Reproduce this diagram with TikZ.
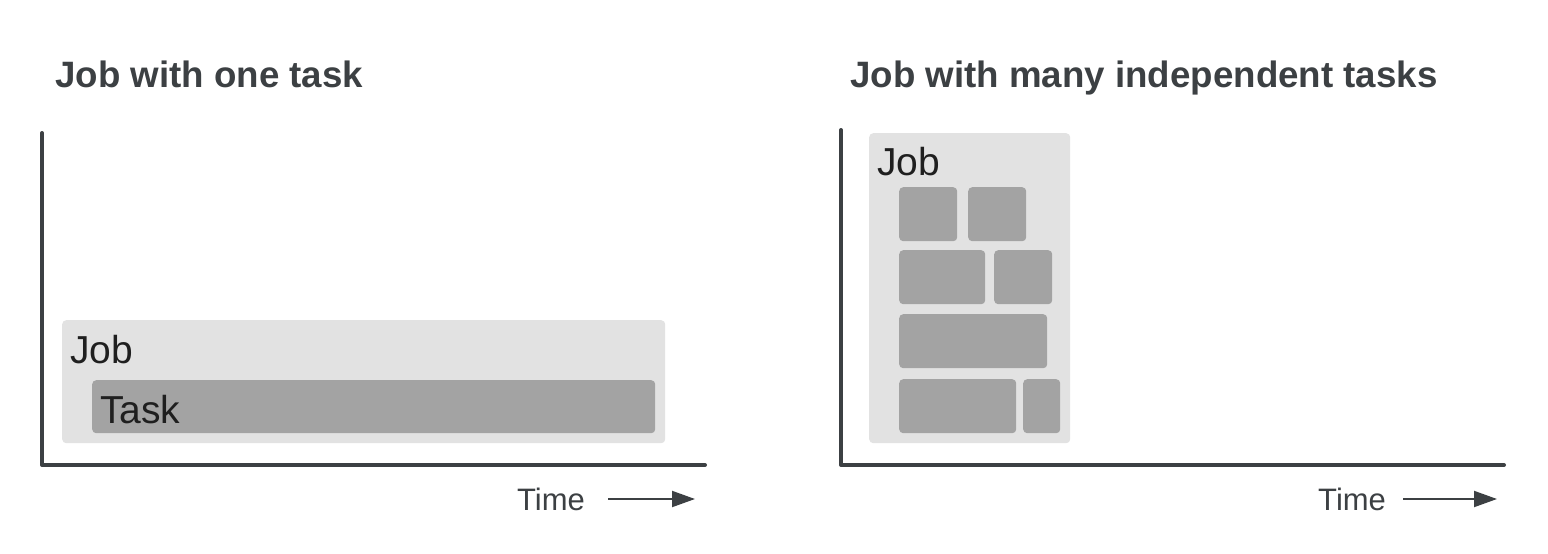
\documentclass[tikz,border=0pt]{standalone}
\usepackage{fontspec}
\setmainfont{Liberation Sans}
\usetikzlibrary{arrows.meta}
\definecolor{axis}{HTML}{3C4043}
\definecolor{jobfill}{HTML}{E2E2E2}
\definecolor{taskfill}{HTML}{A3A3A3}
\definecolor{labelc}{HTML}{1F1F1F}
\tikzset{
  axisline/.style={draw=axis, line width=4pt, line join=round, line cap=round},
  jobbox/.style={fill=jobfill, rounded corners=4pt, inner sep=0pt, anchor=north west},
  taskbox/.style={fill=taskfill, rounded corners=4pt, inner sep=0pt, anchor=north west},
  titletext/.style={text=axis, font=\fontsize{36.7}{40}\selectfont\bfseries, anchor=base west, inner sep=0pt},
  boxlabel/.style={text=labelc, font=\fontsize{39}{40}\selectfont, anchor=base west, inner sep=0pt},
  timetext/.style={text=axis, font=\fontsize{31}{33}\selectfont, anchor=base west, inner sep=0pt},
  timearrow/.style={draw=axis, line width=2pt, -{Triangle[length=23pt,width=16pt]}}
}
\begin{document}
\begin{tikzpicture}[x=1pt,y=-1pt]
\useasboundingbox (0,0) rectangle (1548,554);
% ---------- left panel ----------
\node[titletext] (title1) at (55,87) {Job with one task};
\coordinate (ytop1) at (42,133);
\coordinate (xend1) at (705,465);
\draw[axisline] (ytop1) |- (xend1);
\node[jobbox, minimum width=603pt, minimum height=123pt] (job1) at (62,320) {};
\node[taskbox, minimum width=563pt, minimum height=53pt] (task1) at (92,380) {};
\node[boxlabel] (joblabel1) at (70,363) {Job};
\node[boxlabel] (tasklabel1) at (100,423) {Task};
\node[timetext] (time1) at (517,510) {Time};
\coordinate (arr1s) at (608,499);
\coordinate (arr1e) at (695,499);
\draw[timearrow] (arr1s) -- (arr1e);
% ---------- right panel ----------
\node[titletext] (title2) at (850,87) {Job with many independent tasks};
\coordinate (ytop2) at (841,130);
\coordinate (xend2) at (1504,465);
\draw[axisline] (ytop2) |- (xend2);
\node[jobbox, minimum width=201pt, minimum height=310pt] (job2) at (869,133) {};
\node[boxlabel] (joblabel2) at (877,175) {Job};
\node[taskbox, minimum width=58pt, minimum height=54pt] (t1) at (899,187) {};
\node[taskbox, minimum width=58pt, minimum height=54pt] (t2) at (968,187) {};
\node[taskbox, minimum width=86pt, minimum height=54pt] (t3) at (899,250) {};
\node[taskbox, minimum width=58pt, minimum height=54pt] (t4) at (994,250) {};
\node[taskbox, minimum width=148pt, minimum height=54pt] (t5) at (899,314) {};
\node[taskbox, minimum width=117pt, minimum height=54pt] (t6) at (899,379) {};
\node[taskbox, minimum width=37pt, minimum height=54pt] (t7) at (1023,379) {};
\node[timetext] (time2) at (1318,510) {Time};
\coordinate (arr2s) at (1403,499);
\coordinate (arr2e) at (1497,499);
\draw[timearrow] (arr2s) -- (arr2e);
\end{tikzpicture}
\end{document}
